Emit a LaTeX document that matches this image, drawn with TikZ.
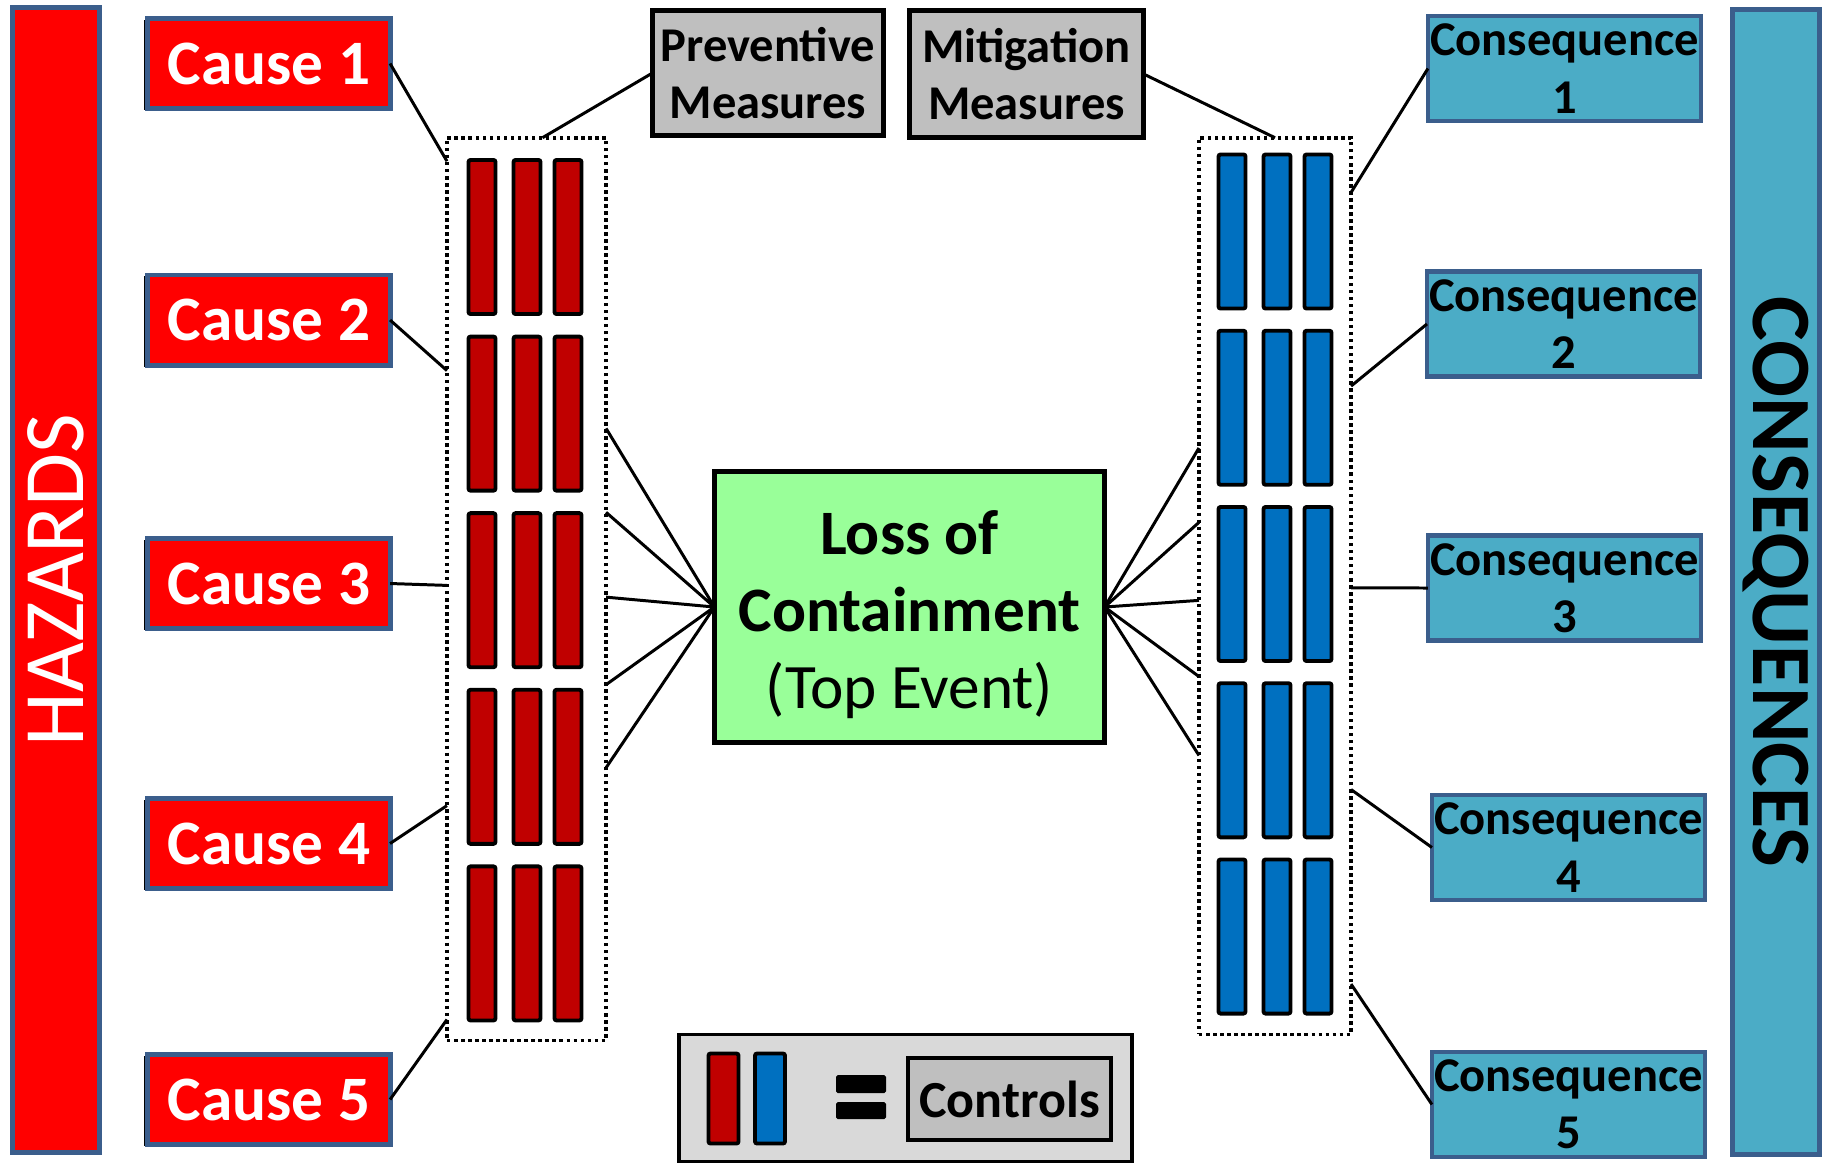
\documentclass[tikz,border=0pt]{standalone}
\usepackage{fontspec}
\setmainfont{Carlito}
\usetikzlibrary{calc,shadows}

\definecolor{hazred}{HTML}{FF0000}
\definecolor{edgeblue}{HTML}{3B5E8C}
\definecolor{ctrlred}{HTML}{C00000}
\definecolor{ctrlblue}{HTML}{0070C0}
\definecolor{consq}{HTML}{4BACC6}
\definecolor{measgray}{HTML}{BFBFBF}
\definecolor{topgreen}{HTML}{99FF99}
\definecolor{legendgray}{HTML}{D9D9D9}

\begin{document}
\begin{tikzpicture}[x=0.01cm, y=-0.01cm,
  every node/.style={inner sep=0pt, outer sep=0pt},
  sidebar/.style={rectangle, draw=edgeblue, line width=1.4pt, minimum width=11.45cm, minimum height=0.87cm},
  cause/.style={rectangle, draw=edgeblue, fill=hazred, line width=1.4pt, minimum width=2.42cm, minimum height=0.90cm,
    text=white, font=\bfseries\fontsize{18}{21.6}\selectfont,
    general shadow={fill=black, shadow xshift=-0.035cm, shadow yshift=-0.015cm}},
  consbox/.style={rectangle, draw=edgeblue, fill=consq, line width=1.2pt, minimum width=2.73cm, minimum height=1.05cm,
    align=center, font=\bfseries\fontsize{13.8}{16.3}\selectfont},
  measure/.style={rectangle, draw=black, fill=measgray, line width=1.4pt, align=center,
    font=\bfseries\fontsize{13.8}{16}\selectfont},
  ctrl/.style={rectangle, draw=black, line width=1.1pt, rounded corners=0.6pt, minimum width=0.27cm, minimum height=1.54cm},
  group/.style={rectangle, draw=black, line width=1pt, dash pattern=on 1pt off 1pt},
  link/.style={draw=black, line width=0.85pt}]
  \useasboundingbox (0,0) rectangle (1825,1166);

  % side bars
  \node[sidebar, fill=hazred, rotate=90, text=white, font=\fontsize{24.5}{28}\selectfont] (haz) at (56,580) {HAZARDS};
  \node[sidebar, fill=consq, rotate=-90, font=\bfseries\fontsize{24}{28}\selectfont] (cons) at (1776,582) {CONSEQUENCES};

  % causes and consequences
  \foreach \y [count=\i] in {63.5,320,583.5,843.5,1099.5}
    \node[cause] (c\i) at (269,\y) {Cause \i};
  \foreach \x/\y [count=\i] in {1564.5/68.5,1563.5/324,1564.5/588,1568.5/847.5,1568.5/1104.5}
    \node[consbox] (q\i) at (\x,\y) {Consequence\\\i};

  % measures
  \node[measure, minimum width=2.31cm, minimum height=1.25cm] (pm) at (768,73) {Preventive\\Measures};
  \node[measure, minimum width=2.34cm, minimum height=1.27cm] (mm) at (1026.5,74) {Mitigation\\Measures};

  % control groups
  \node[group, minimum width=1.59cm, minimum height=9.02cm] (prev) at (526.5,589) {};
  \node[group, minimum width=1.52cm, minimum height=8.96cm] (mitg) at (1275,586) {};
  \foreach \x [count=\j] in {482,527,568}
    \foreach \k in {1,...,5}
      \node[ctrl, fill=ctrlred] (red\j\k) at (\x,{237+176.6*(\k-1)}) {};
  \foreach \x [count=\j] in {1232,1277,1318}
    \foreach \k in {1,...,5}
      \node[ctrl, fill=ctrlblue] (blue\j\k) at (\x,{231.5+176.25*(\k-1)}) {};

  % top event
  \node[rectangle, draw=black, fill=topgreen, line width=1.4pt, minimum width=3.90cm, minimum height=2.71cm,
    align=center, font=\fontsize{18}{21.9}\selectfont] (top) at (909.5,607)
    {\rule{0pt}{0.6cm}\textbf{Loss of}\\\textbf{Containment}\\(Top Event)};

  % attachment points on the groups
  \foreach \f [count=\i] in {0.026,0.258,0.496,0.740,0.977}
    \coordinate (pw\i) at ($(prev.north west)!\f!(prev.south west)$);
  \foreach \f [count=\i] in {0.322,0.415,0.509,0.606,0.698}
    \coordinate (pe\i) at ($(prev.north east)!\f!(prev.south east)$);
  \foreach \f [count=\i] in {0.346,0.429,0.516,0.601,0.689}
    \coordinate (mw\i) at ($(mitg.north west)!\f!(mitg.south west)$);
  \foreach \f [count=\i] in {0.061,0.277,0.502,0.727,0.944}
    \coordinate (me\i) at ($(mitg.north east)!\f!(mitg.south east)$);
  \coordinate (pn) at ($(prev.north west)!0.6!(prev.north east)$);

  % connectors
  \foreach \i in {1,...,5} {
    \draw[link] (c\i.east) -- (pw\i);
    \draw[link] (pe\i) -- (top.west);
    \draw[link] (top.east) -- (mw\i);
    \draw[link] (me\i) -- (q\i.west);
  }
  \draw[link] (pm.west) -- (pn);
  \draw[link] (mm.east) -- (mitg.north);

  % legend
  \node[rectangle, draw=black, fill=legendgray, line width=1pt, minimum width=4.53cm, minimum height=1.27cm] (leg) at (905.5,1098) {};
  \node[ctrl, fill=ctrlred, minimum width=0.30cm, minimum height=0.90cm] (legred) at (723.5,1098.5) {};
  \node[ctrl, fill=ctrlblue, minimum width=0.30cm, minimum height=0.90cm] (legblue) at (770,1098.5) {};
  \fill[rounded corners=0.5pt] (836,1075) rectangle (886,1093);
  \fill[rounded corners=0.5pt] (836,1102) rectangle (886,1119);
  \node[measure, line width=1.2pt, minimum width=2.03cm, minimum height=0.82cm,
    font=\bfseries\fontsize{14.8}{17}\selectfont] (ctl) at (1009.5,1099) {Controls};
\end{tikzpicture}
\end{document}
